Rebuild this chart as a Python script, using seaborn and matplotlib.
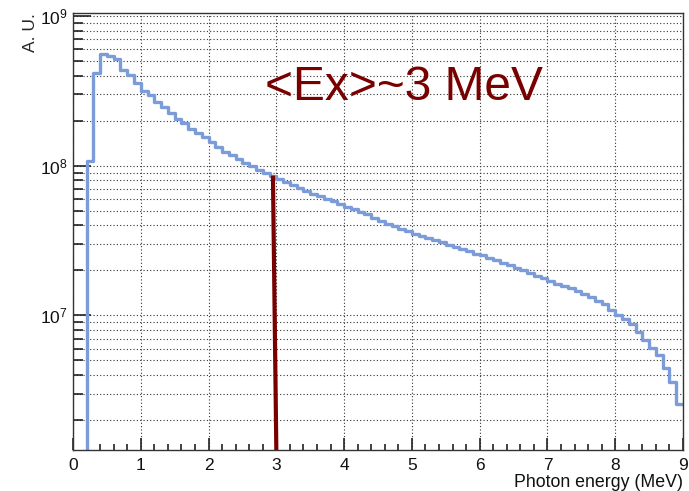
import numpy as np
import pandas as pd
import matplotlib
matplotlib.use("Agg")
import matplotlib.pyplot as plt
import matplotlib.ticker as mticker
import seaborn as sns

# photon spectrum, 0.1 MeV bins from 0 to 9 MeV
bin_edges = np.round(np.arange(0, 9.0001, 0.1), 2)
spettro = [
    0, 0, 1.08e8, 4.2e8, 5.6e8, 5.4e8, 5.2e8, 4.4e8, 4.05e8, 3.56e8,
    3.18e8, 2.95e8, 2.67e8, 2.47e8, 2.25e8, 2.07e8, 1.92e8, 1.76e8, 1.66e8, 1.56e8,
    1.45e8, 1.34e8, 1.24e8, 1.18e8, 1.11e8, 1.05e8, 1.0e8, 9.4e7, 9.0e7, 8.6e7,
    8.2e7, 7.85e7, 7.48e7, 7.1e7, 6.83e7, 6.5e7, 6.26e7, 6.0e7, 5.8e7, 5.57e7,
    5.33e7, 5.11e7, 4.91e7, 4.73e7, 4.5e7, 4.3e7, 4.1e7, 3.95e7, 3.8e7, 3.67e7,
    3.52e7, 3.4e7, 3.28e7, 3.17e7, 3.08e7, 2.96e7, 2.86e7, 2.78e7, 2.68e7, 2.58e7,
    2.53e7, 2.42e7, 2.33e7, 2.24e7, 2.16e7, 2.08e7, 2.0e7, 1.92e7, 1.84e7, 1.77e7,
    1.70e7, 1.63e7, 1.57e7, 1.52e7, 1.46e7, 1.40e7, 1.32e7, 1.25e7, 1.20e7, 1.09e7,
    1.0e7, 9.5e6, 8.7e6, 7.7e6, 6.9e6, 6.1e6, 5.4e6, 4.46e6, 3.6e6, 2.57e6,
]
centri = (bin_edges[:-1] + bin_edges[1:]) / 2

# marker line for the mean energy
media_x = [2.95, 3.0]
media_y = [8.6e7, 1.26e6]
testo_media = "<Ex>~3 MeV"

y_min, y_max = 1.26e6, 1.05e9

df = pd.DataFrame({"energia": centri, "conteggi": spettro})

sns.set_style("white")
plt.rcParams["font.family"] = ["Liberation Sans", "DejaVu Sans"]
plt.rcParams["mathtext.default"] = "regular"

fig = plt.figure(figsize=(6.89, 4.91), dpi=100)
ax = fig.add_axes([73 / 689, 1 - 450 / 491, 610 / 689, 437 / 491])

sns.histplot(data=df, x="energia", weights="conteggi", bins=list(bin_edges), element="step",
             fill=False, color="#7b9cd9", linewidth=2.4, ax=ax)
ax.set_yscale("log")
ax.plot(media_x, media_y, color="#7a0000", linewidth=3, solid_capstyle="butt")

ax.set_xlim(0, 9)
ax.set_ylim(y_min, y_max)

ax.xaxis.set_major_locator(mticker.MultipleLocator(1))
ax.xaxis.set_minor_locator(mticker.MultipleLocator(0.2))
ax.yaxis.set_major_locator(mticker.LogLocator(base=10, numticks=10))
ax.yaxis.set_minor_locator(mticker.LogLocator(base=10, subs=np.arange(2, 10), numticks=20))
ax.yaxis.set_minor_formatter(mticker.NullFormatter())

ax.tick_params(which="both", bottom=True, left=True, top=False, right=False, color="#222222")
ax.tick_params(axis="x", which="major", direction="in", length=9, width=1.2, labelsize=12.5, pad=6)
ax.tick_params(axis="x", which="minor", direction="in", length=4.5, width=1.2)
ax.tick_params(axis="y", which="major", direction="in", length=13, width=1.2, labelsize=12.5, pad=4)
ax.tick_params(axis="y", which="minor", direction="in", length=7, width=1.2)
ax.tick_params(labelcolor="#111111")

ax.grid(True, axis="x", which="major", color="#333333", linestyle=(0, (1, 2)), linewidth=0.8)
ax.grid(True, axis="y", which="both", color="#333333", linestyle=(0, (1, 2)), linewidth=0.8)

for s in ax.spines.values():
    s.set_color("#333333")
    s.set_linewidth(1)

ax.set_xlabel("")
ax.set_ylabel("A. U.", fontsize=12.5, ha="right")
ax.yaxis.set_label_coords(-0.057, 1.0)
fig.text(683 / 689, 1 - 487 / 491, "Photon energy (MeV)", fontsize=12.8, ha="right",
         va="baseline", color="#111111")

ax.text(0.315, 0.80, testo_media, transform=ax.transAxes, fontsize=34.5,
        color="#7a0000", va="baseline", ha="left")

fig.savefig("out.png", dpi=100)
